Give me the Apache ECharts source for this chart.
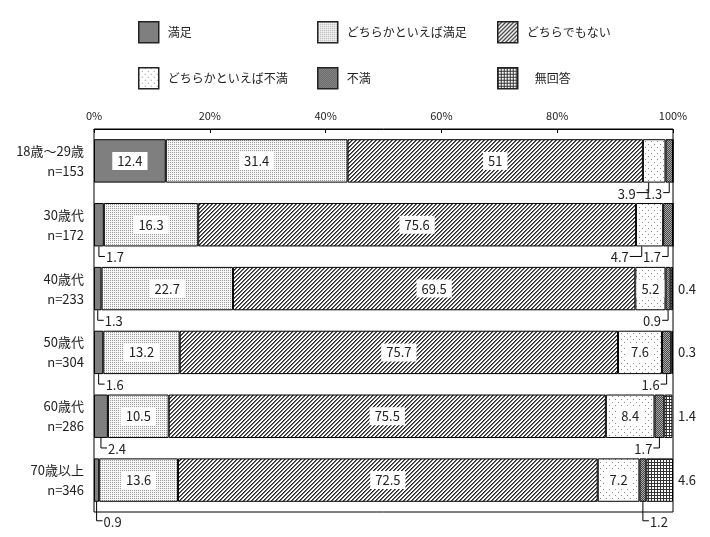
<!DOCTYPE html>
<html>
<head>
<meta charset="utf-8" />
<script src="https://cdn.jsdelivr.net/npm/echarts@6/dist/echarts.min.js"></script>
<style>
  html, body { margin: 0; padding: 0; background: #fff; }
</style>
</head>
<body>
<div id="main" style="width: 710px;height:537px;"></div>
<script type="text/javascript">
// 年代別の満足度（%）
var groups = ['18歳〜29歳', '30歳代', '40歳代', '50歳代', '60歳代', '70歳以上'];
var counts = [153, 172, 233, 304, 286, 346];
var names = ['満足', 'どちらかといえば満足', 'どちらでもない', 'どちらかといえば不満', '不満', '無回答'];
var manzoku      = [12.4, 1.7, 1.3, 1.6, 2.4, 0.9];
var yaManzoku    = [31.4, 16.3, 22.7, 13.2, 10.5, 13.6];
var dochiraDemo  = [51, 75.6, 69.5, 75.7, 75.5, 72.5];
var yaFuman      = [3.9, 4.7, 5.2, 7.6, 8.4, 7.2];
var fuman        = [1.3, 1.7, 0.9, 1.6, 1.7, 1.2];
var mukaitou     = [0, 0, 0.4, 0.3, 1.4, 4.6];
var xTicks = [0, 20, 40, 60, 80, 100];

var values = [manzoku, yaManzoku, dochiraDemo, yaFuman, fuman, mukaitou];
var FONT = '"Noto Sans CJK JP", "Noto Sans", sans-serif';

// パターン塗り
function pattern(size, draw) {
  var c = document.createElement('canvas');
  c.width = size; c.height = size;
  var ctx = c.getContext('2d');
  draw(ctx, size);
  return { image: c, repeat: 'repeat' };
}
function px(ctx, x, y, col) { ctx.fillStyle = col; ctx.fillRect(x, y, 1, 1); }

var fills = [
  '#7f7f7f',
  pattern(2, function (ctx) {
    ctx.fillStyle = '#f6f6f6'; ctx.fillRect(0, 0, 2, 2);
    px(ctx, 0, 0, '#9a9a9a');
  }),
  pattern(4, function (ctx) {
    ctx.fillStyle = '#fff'; ctx.fillRect(0, 0, 4, 4);
    for (var x = 0; x < 4; x++) {
      for (var y = 0; y < 4; y++) {
        var k = (x + y) % 4;
        if (k === 3) px(ctx, x, y, '#2a2a2a');
        else if (k === 0) px(ctx, x, y, '#6a6a6a');
      }
    }
  }),
  pattern(6, function (ctx) {
    ctx.fillStyle = '#fff'; ctx.fillRect(0, 0, 6, 6);
    px(ctx, 0, 0, '#8a8a8a'); px(ctx, 3, 3, '#8a8a8a');
  }),
  pattern(2, function (ctx) {
    ctx.fillStyle = '#4a4a4a'; ctx.fillRect(0, 0, 2, 2);
    px(ctx, 0, 0, '#a8a8a8'); px(ctx, 1, 1, '#a8a8a8');
  }),
  pattern(3, function (ctx) {
    ctx.fillStyle = '#fff'; ctx.fillRect(0, 0, 3, 3);
    ctx.fillStyle = '#333'; ctx.fillRect(0, 0, 3, 1); ctx.fillRect(0, 0, 1, 3);
  })
];

var BAR_RATIO = 0.68;

var series = names.map(function (name, j) {
  return {
    name: name,
    type: 'bar',
    stack: 'total',
    barWidth: '68%',
    itemStyle: { color: fills[j], borderColor: '#000', borderWidth: 1 },
    label: {
      position: 'inside',
      color: '#222',
      fontSize: 13,
      fontFamily: FONT,
      backgroundColor: '#fff',
      padding: [3, 5, 2, 5]
    },
    emphasis: { disabled: true },
    data: values[j].map(function (v) {
      return { value: v, label: { show: v >= 5 } };
    })
  };
});

// 外側ラベル（5未満の値）
var outside = [];
groups.forEach(function (g, i) {
  var start = 0;
  values.forEach(function (arr, j) {
    var v = arr[i];
    if (v > 0 && v < 5) outside.push([start + v / 2, i, j, v, start, start + v]);
    start += v;
  });
});

series.push({
  type: 'custom',
  coordinateSystem: 'cartesian2d',
  encode: { x: 0, y: 1 },
  z: 10,
  silent: true,
  data: outside,
  renderItem: function (params, api) {
    var i = api.value(1), j = api.value(2), v = api.value(3);
    var s = api.value(4), e = api.value(5);
    var band = api.size([0, 1])[1];
    var center = api.coord([0, i]);
    var bb = center[1] + band * BAR_RATIO / 2;
    var last = i === groups.length - 1;
    var font = '13px ' + FONT;
    if (j === 5) {
      var r = api.coord([100, i]);
      return { type: 'text', style: { text: String(v), x: r[0] + 5, y: center[1], align: 'left', verticalAlign: 'middle', font: font, fill: '#222' } };
    }
    var ax = (j === 3) ? s + Math.min(v / 2, 1) : (s + e) / 2;
    var x0 = api.coord([ax, i])[0];
    var right = (j === 0) || last;
    var dy = last ? 19 : 10;
    var len = right ? 6 : (j === 3 ? 12 : 6);
    var x1 = right ? x0 + len : x0 - len;
    return {
      type: 'group',
      children: [
        { type: 'polyline', shape: { points: [[x0, bb], [x0, bb + dy], [x1, bb + dy]] }, style: { stroke: '#000', lineWidth: 1, fill: null } },
        { type: 'text', style: { text: String(v), x: right ? x1 + 1 : x1 - 1, y: bb + dy + 1, align: right ? 'left' : 'right', verticalAlign: 'middle', font: font, fill: '#222' } }
      ]
    };
  }
});

var legendPos = [[133, 16], [312, 16], [492, 16], [133, 62], [312, 62], [492, 62]];
var legends = names.map(function (n, k) {
  return {
    data: [{ name: n, icon: 'rect' }],
    left: legendPos[k][0],
    top: legendPos[k][1],
    itemWidth: 20,
    itemHeight: 21,
    selectedMode: false,
    itemStyle: { borderColor: '#222', borderWidth: 1.5 },
    textStyle: { fontSize: 12, fontFamily: FONT, color: '#222', padding: [0, 0, 0, k === 5 ? 12 : 4] }
  };
});

var myChart = echarts.init(document.getElementById('main'));
var option = {
  animation: false,
  backgroundColor: '#fff',
  legend: legends,
  grid: {
    left: 94, right: 37, top: 129, bottom: 25,
    show: true, borderColor: '#000', borderWidth: 1
  },
  xAxis: {
    type: 'value',
    position: 'top',
    min: xTicks[0],
    max: xTicks[xTicks.length - 1],
    interval: 20,
    axisLine: { show: true, lineStyle: { color: '#000' } },
    axisTick: { show: true, inside: true, length: 4, lineStyle: { color: '#000' } },
    splitLine: { show: false },
    axisLabel: { formatter: '{value}%', fontSize: 11, fontFamily: FONT, color: '#222', margin: 8 }
  },
  yAxis: {
    type: 'category',
    inverse: true,
    data: groups,
    axisLine: { show: false },
    axisTick: { show: false },
    axisLabel: {
      margin: 10,
      fontSize: 13,
      lineHeight: 20,
      fontFamily: FONT,
      color: '#222',
      align: 'right',
      formatter: function (val, idx) { return val + '\nn=' + counts[idx]; }
    }
  },
  series: series
};
myChart.setOption(option);
</script>
</body>
</html>
